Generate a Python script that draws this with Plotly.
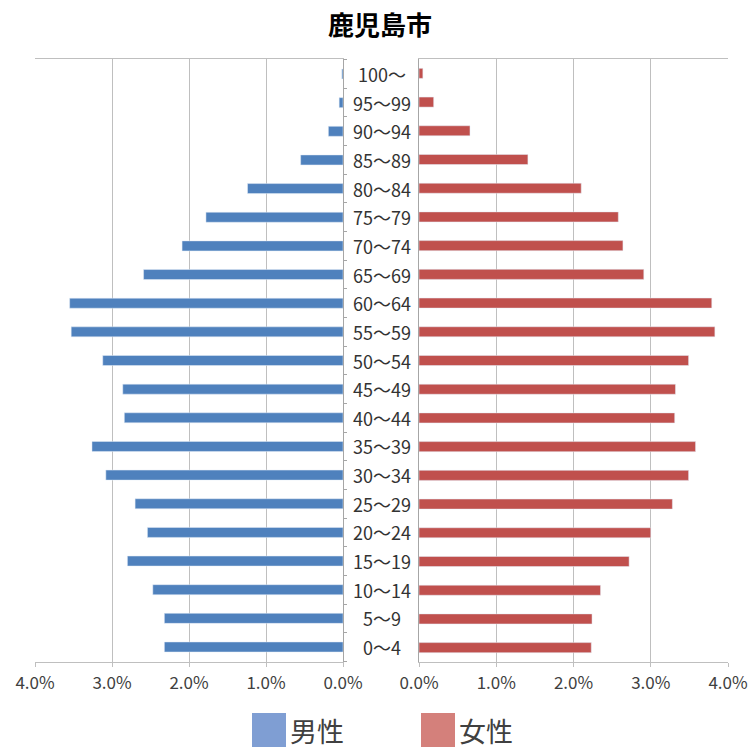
import plotly.graph_objects as go

ages = ["0～4", "5～9", "10～14", "15～19", "20～24", "25～29", "30～34", "35～39",
        "40～44", "45～49", "50～54", "55～59", "60～64", "65～69", "70～74", "75～79",
        "80～84", "85～89", "90～94", "95～99", "100～"]
male = [2.32, 2.32, 2.47, 2.80, 2.54, 2.70, 3.08, 3.26, 2.84, 2.86, 3.12,
        3.53, 3.55, 2.59, 2.09, 1.78, 1.24, 0.55, 0.19, 0.05, 0.015]
female = [2.23, 2.24, 2.35, 2.72, 3.00, 3.28, 3.49, 3.58, 3.31, 3.32, 3.49,
          3.83, 3.79, 2.91, 2.64, 2.58, 2.10, 1.41, 0.66, 0.19, 0.05]
xticks = [0, 1, 2, 3, 4]
title = "鹿児島市"
legend_names = ["男性", "女性"]

W, H = 748, 752
FONT = "Noto Sans CJK JP"
male_color = "#4F81BD"
female_color = "#C0504D"
grid = "#BFBFBF"

def px(x):
    return x / W

def py(y):
    return 1 - y / H

fig = go.Figure()
fig.add_trace(go.Bar(y=ages, x=male, orientation="h", marker_color=male_color,
                     xaxis="x", yaxis="y", showlegend=False, name=legend_names[0]))
fig.add_trace(go.Bar(y=ages, x=female, orientation="h", marker_color=female_color,
                     xaxis="x2", yaxis="y2", showlegend=False, name=legend_names[1]))

axis_common = dict(
    tickvals=xticks, ticktext=[f"{v:.1f}%" for v in xticks],
    showgrid=True, gridcolor=grid, gridwidth=1, zeroline=False,
    showline=True, linecolor=grid, mirror=True,
    ticks="outside", ticklen=4, tickcolor=grid,
    tickfont=dict(family=FONT, size=17, color="#404040"),
    ticklabelstandoff=2,
    fixedrange=True, automargin=False,
)
fig.update_layout(
    width=W, height=H,
    margin=dict(l=0, r=0, t=0, b=0, autoexpand=False),
    paper_bgcolor="white", plot_bgcolor="white",
    bargap=0.65,
    xaxis=dict(domain=[px(35), px(343)], range=[4, 0], anchor="y", **axis_common),
    xaxis2=dict(domain=[px(419), px(728)], range=[0, 4], anchor="y2", **axis_common),
    yaxis=dict(domain=[py(662), py(59)], anchor="x", side="right", type="category",
               showticklabels=False, showline=True, linecolor="#A6A6A6",
               ticks="outside", ticklen=3, tickcolor="#A6A6A6", tickson="boundaries",
               showgrid=False, automargin=False),
    yaxis2=dict(domain=[py(662), py(59)], anchor="x2", side="left", type="category",
                showticklabels=False, showline=True, linecolor="#A6A6A6",
                ticks="", showgrid=False, automargin=False),
    showlegend=False,
)

annotations = [dict(text="<b>" + title + "</b>", x=px(380), y=py(24), xref="paper", yref="paper",
                    xanchor="center", yanchor="middle",
                    showarrow=False, font=dict(family=FONT, size=26, color="#000000"))]
for a in ages:
    annotations.append(dict(text=a, x=px(382), y=a, xref="paper", yref="y",
                            xanchor="center", yanchor="middle", showarrow=False,
                            font=dict(family=FONT, size=18, color="#333333")))

# legend
leg = [(legend_names[0], 252, "#7F9ED3"), (legend_names[1], 421, "#D4807B")]
shapes = []
for name, x0, col in leg:
    shapes.append(dict(type="rect", xref="paper", yref="paper",
                       x0=px(x0), x1=px(x0 + 34), y0=py(747), y1=py(713),
                       fillcolor=col, line=dict(width=0)))
    annotations.append(dict(text=name, x=px(x0 + 36), y=py(730), xref="paper", yref="paper",
                            xanchor="left", yanchor="middle", showarrow=False,
                            font=dict(family=FONT, size=27, color="#404040")))

fig.update_layout(annotations=annotations, shapes=shapes)
fig.write_html("out.html")
